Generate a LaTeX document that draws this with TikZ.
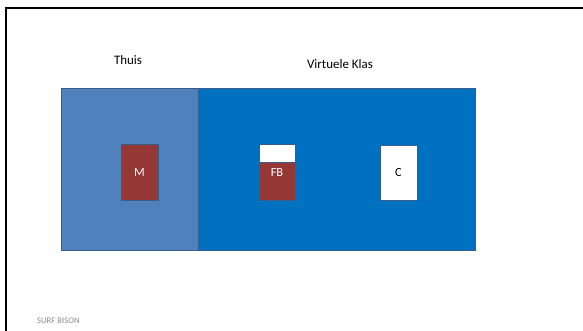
\documentclass[tikz,border=0pt]{standalone}
\usepackage{fontspec}
\setmainfont{Carlito}
\definecolor{thuisblue}{HTML}{4F81BD}
\definecolor{klasblue}{HTML}{0070C0}
\definecolor{edgeblue}{HTML}{385D8A}
\definecolor{boxred}{HTML}{953735}
\definecolor{footgray}{HTML}{8C8C8C}
\begin{document}
\begin{tikzpicture}[x=1bp,y=-1bp,
  area/.style={draw=edgeblue,line width=0.8bp},
  smallbox/.style={draw=edgeblue,line width=0.8bp},
  lbl/.style={font=\fontsize{13}{15}\selectfont,text=black},
  boxlbl/.style={font=\fontsize{12.5}{14}\selectfont}]
\useasboundingbox (0,0) rectangle (583,330);
\clip (0,0) rectangle (583,330);
\fill[white] (0,0) rectangle (583,330);
% slide frame
\coordinate (fb) at (6,335);
\coordinate (fc) at (6,8);
\coordinate (fr) at (590,8);
\draw[black,line width=2bp] (fb) -- (fc) -- (fr);
% areas
\path[area,fill=thuisblue] (61,88) rectangle (198,250);
\path[area,fill=klasblue] (198,88) rectangle (475,250);
% boxes
\node[smallbox,fill=boxred,minimum width=37bp,minimum height=56bp,inner sep=0pt,text=white,boxlbl] (M) at (139.5,172) {M};
\path[smallbox,fill=white] (259,144) rectangle (295,162);
\node[smallbox,fill=boxred,minimum width=36bp,minimum height=38bp,inner sep=0pt,anchor=north west] (FB) at (259,162) {};
\node[text=white,boxlbl] (FBl) at (277,172) {FB};
\node[smallbox,fill=white,minimum width=37bp,minimum height=55bp,inner sep=0pt,text=black,boxlbl] (C) at (398.5,172.5) {C};
% labels
\node[lbl] (thuis) at (128,60) {Thuis};
\node[lbl] (klas) at (340,64) {Virtuele Klas};
\node[anchor=west,text=footgray,font=\fontsize{8.7}{10}\selectfont,inner sep=0pt] (foot) at (37,321) {SURF BISON};
\end{tikzpicture}
\end{document}
